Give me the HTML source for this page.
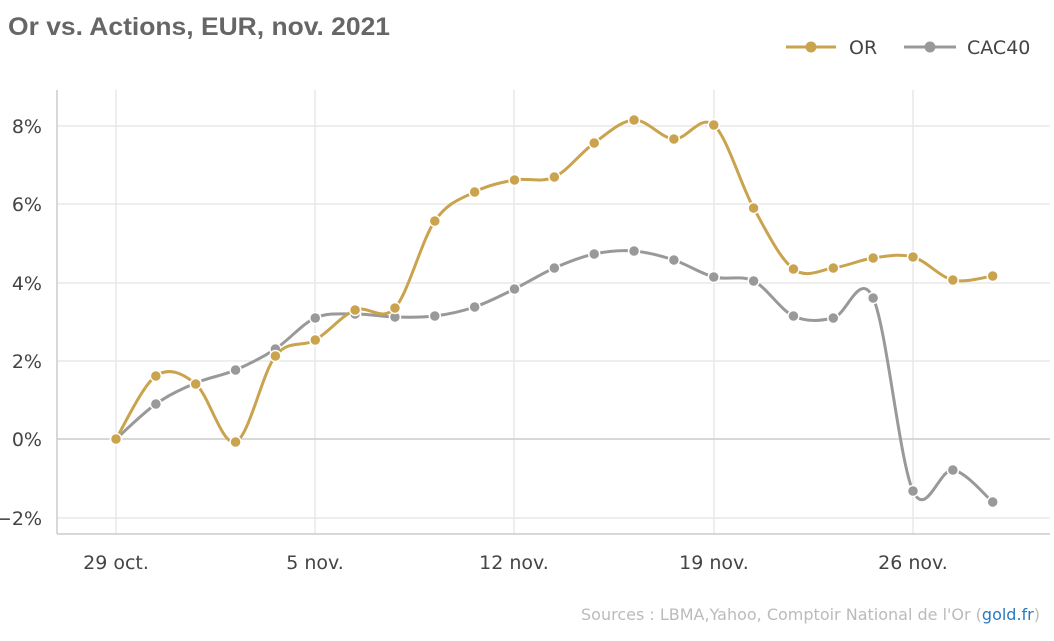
<!DOCTYPE html><html><head><meta charset="utf-8"><style>
body{margin:0;background:#fff;width:1054px;height:637px;overflow:hidden;font-family:"DejaVu Sans","Liberation Sans",sans-serif}
</style></head><body>
<svg id="s" width="1054" height="637" xmlns="http://www.w3.org/2000/svg" font-family="DejaVu Sans, Liberation Sans, sans-serif">
<text x="8" y="35" font-size="25" font-weight="bold" fill="#666" font-family="Liberation Sans Narrow, Liberation Sans, sans-serif" textLength="382" lengthAdjust="spacingAndGlyphs">Or vs. Actions, EUR, nov. 2021</text>
<g id="grid" stroke="#e8e8e8" stroke-width="1.5"></g>
<line x1="57" y1="90" x2="57" y2="534" stroke="#ccc" stroke-width="1.5"/>
<line x1="57" y1="534" x2="1050" y2="534" stroke="#ccc" stroke-width="1.5"/>
<line x1="57" y1="439" x2="1050" y2="439" stroke="#ccc" stroke-width="1.5"/>
<g font-size="19" fill="#444" text-anchor="end">
<text x="42" y="133">8%</text><text x="42" y="211">6%</text><text x="42" y="290">4%</text><text x="42" y="368">2%</text><text x="42" y="446">0%</text><text x="42" y="525">−2%</text>
</g>
<g font-size="19" fill="#444" text-anchor="middle">
<text x="116" y="569">29 oct.</text><text x="315" y="569">5 nov.</text><text x="514" y="569">12 nov.</text><text x="714" y="569">19 nov.</text><text x="913" y="569">26 nov.</text>
</g>
<g id="series"></g>
<g>
<line x1="786" y1="47" x2="836" y2="47" stroke="#c9a34e" stroke-width="3"/><circle cx="811" cy="47" r="5.5" fill="#c9a34e"/>
<text x="849" y="54" font-size="19" fill="#444">OR</text>
<line x1="904" y1="47" x2="956" y2="47" stroke="#999" stroke-width="3"/><circle cx="930" cy="47" r="5.5" fill="#999"/>
<text x="967" y="54" font-size="19" fill="#444">CAC40</text>
</g>
<text x="1040" y="620" font-size="16" fill="#bbb" text-anchor="end">Sources : LBMA,Yahoo, Comptoir National de l'Or (<tspan fill="#2a7ac0">gold.fr</tspan>)</text>
</svg>
<script>
var NS="http://www.w3.org/2000/svg",g=document.getElementById('grid'),se=document.getElementById('series');
[126,204,283,361,518].forEach(function(y){var l=document.createElementNS(NS,'line');l.setAttribute('x1',57);l.setAttribute('x2',1050);l.setAttribute('y1',y);l.setAttribute('y2',y);g.appendChild(l);});
[116,315,514,714,913].forEach(function(x){var l=document.createElementNS(NS,'line');l.setAttribute('x1',x);l.setAttribute('x2',x);l.setAttribute('y1',90);l.setAttribute('y2',534);g.appendChild(l);});
var or=[439,376,384,442,356,340,310,308,221,192,180,177,143,120,139,125,208,269,268,258,257,280,276];
var cac=[439,404,383,370,349,318,314,317,316,307,289,268,254,251,260,277,281,316,318,298,491,470,502];
function draw(ys,col){var p=ys.map(function(y,i){return[116+39.85*i,y]});var d="M"+p[0][0]+","+p[0][1];
for(var i=0;i<p.length-1;i++){var a=p[i-1]||p[i],b=p[i],c=p[i+1],e=p[i+2]||c,t=1/6;
d+=" C"+(b[0]+(c[0]-a[0])*t)+","+(b[1]+(c[1]-a[1])*t)+" "+(c[0]-(e[0]-b[0])*t)+","+(c[1]-(e[1]-b[1])*t)+" "+c[0]+","+c[1];}
var pa=document.createElementNS(NS,'path');pa.setAttribute('d',d);pa.setAttribute('fill','none');pa.setAttribute('stroke',col);pa.setAttribute('stroke-width',3);se.appendChild(pa);
p.forEach(function(q){var c=document.createElementNS(NS,'circle');c.setAttribute('cx',q[0]);c.setAttribute('cy',q[1]);c.setAttribute('r',5.5);c.setAttribute('fill',col);c.setAttribute('stroke','#fff');c.setAttribute('stroke-width',1.5);se.appendChild(c);});}
draw(cac,'#999');draw(or,'#c9a34e');
</script>
</body></html>
